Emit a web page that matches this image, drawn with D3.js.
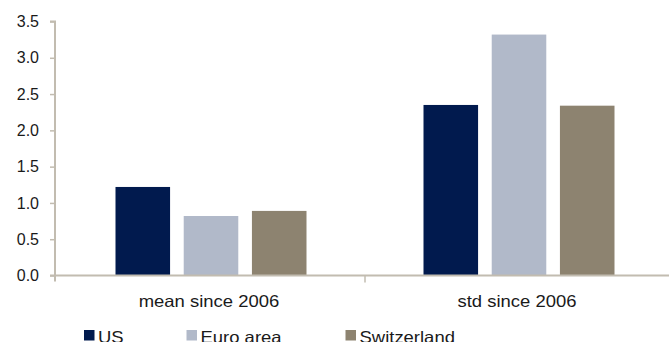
<!DOCTYPE html>
<html>
<head>
<meta charset="utf-8">
<script src="https://cdn.jsdelivr.net/npm/d3@7"></script>
<style>
  html, body { margin: 0; padding: 0; background: #fff; }
  svg { display: block; }
  text { font-family: "Liberation Sans", Arial, sans-serif; fill: #1a1a1a; }
</style>
</head>
<body>
<svg id="chart" width="670" height="342"></svg>
<script>
// Statistics since 2006, per economy
const categories = ["mean since 2006", "std since 2006"];
const seriesNames = ["US", "Euro area", "Switzerland"];
const usValues = [1.22, 2.35];
const euroValues = [0.82, 3.32];
const swissValues = [0.89, 2.34];
const yTicks = [0.0, 0.5, 1.0, 1.5, 2.0, 2.5, 3.0, 3.5];

const colors = ["#011a4e", "#b1b9c9", "#8d8370"];
const axisColor = "#c2bcb0";
const labelStretch = 1.12; // labels are set a little wide

const seriesValues = [usValues, euroValues, swissValues];
const rows = categories.map((c, i) => ({
  category: c,
  values: seriesNames.map((s, j) => ({ series: s, value: seriesValues[j][i] }))
}));

const svg = d3.select("#chart");
const plotLeft = 55, plotRight = 669, plotTop = 21.5, plotBottom = 275.5;

const y = d3.scaleLinear().domain([0, 3.5]).range([plotBottom, plotTop]);
const x0 = d3.scaleBand().domain(categories).range([57, 673]);
const x1 = d3.scaleBand().domain(seriesNames)
  .range([58.5, x0.bandwidth() - 58.5]).paddingInner(0.2);

// y axis
const yAxis = svg.append("g").attr("transform", `translate(${plotLeft},0)`)
  .call(d3.axisLeft(y).tickValues(yTicks).tickFormat(d3.format(".1f"))
    .tickSize(5).tickPadding(11));
yAxis.select(".domain").attr("stroke", axisColor).attr("stroke-width", 2)
  .attr("d", `M-5,${plotTop}H0V${plotBottom + 6}`);
yAxis.selectAll(".tick line").attr("stroke", axisColor).attr("stroke-width", 1.5);
yAxis.selectAll(".tick text").attr("font-size", 16).attr("fill", "#1a1a1a")
  .attr("font-family", "Liberation Sans, Arial, sans-serif");

// bars
const groups = svg.append("g").selectAll("g").data(rows).join("g")
  .attr("transform", d => `translate(${x0(d.category)},0)`);
groups.selectAll("rect").data(d => d.values).join("rect")
  .attr("x", d => x1(d.series))
  .attr("width", x1.bandwidth())
  .attr("y", d => y(d.value))
  .attr("height", d => y(0) - y(d.value))
  .attr("fill", (d, i) => colors[i]);

// x axis baseline with category separator
const xAxis = svg.append("g").attr("transform", `translate(0,${plotBottom})`);
xAxis.append("line").attr("x1", plotLeft - 5).attr("x2", plotRight)
  .attr("stroke", axisColor).attr("stroke-width", 2);
xAxis.append("line").attr("x1", x0(categories[1])).attr("x2", x0(categories[1]))
  .attr("y1", 0).attr("y2", 7).attr("stroke", axisColor).attr("stroke-width", 1.5);
xAxis.selectAll("g.cat").data(categories).join("g").attr("class", "cat")
  .attr("transform", d => `translate(${x0(d) + x0.bandwidth() / 2 - 2},31) scale(${labelStretch},1)`)
  .append("text")
  .attr("text-anchor", "middle")
  .attr("font-size", 16.5)
  .text(d => d);

// legend
const legendX = [84, 186.5, 345.5];
const legend = svg.append("g").selectAll("g").data(seriesNames).join("g")
  .attr("transform", (d, i) => `translate(${legendX[i]},330)`);
legend.append("rect").attr("width", 10.5).attr("height", 10.5)
  .attr("fill", (d, i) => colors[i]);
legend.append("g").attr("transform", `translate(14,12.5) scale(${labelStretch},1)`)
  .append("text").attr("font-size", 16.5).text(d => d);
</script>
</body>
</html>
